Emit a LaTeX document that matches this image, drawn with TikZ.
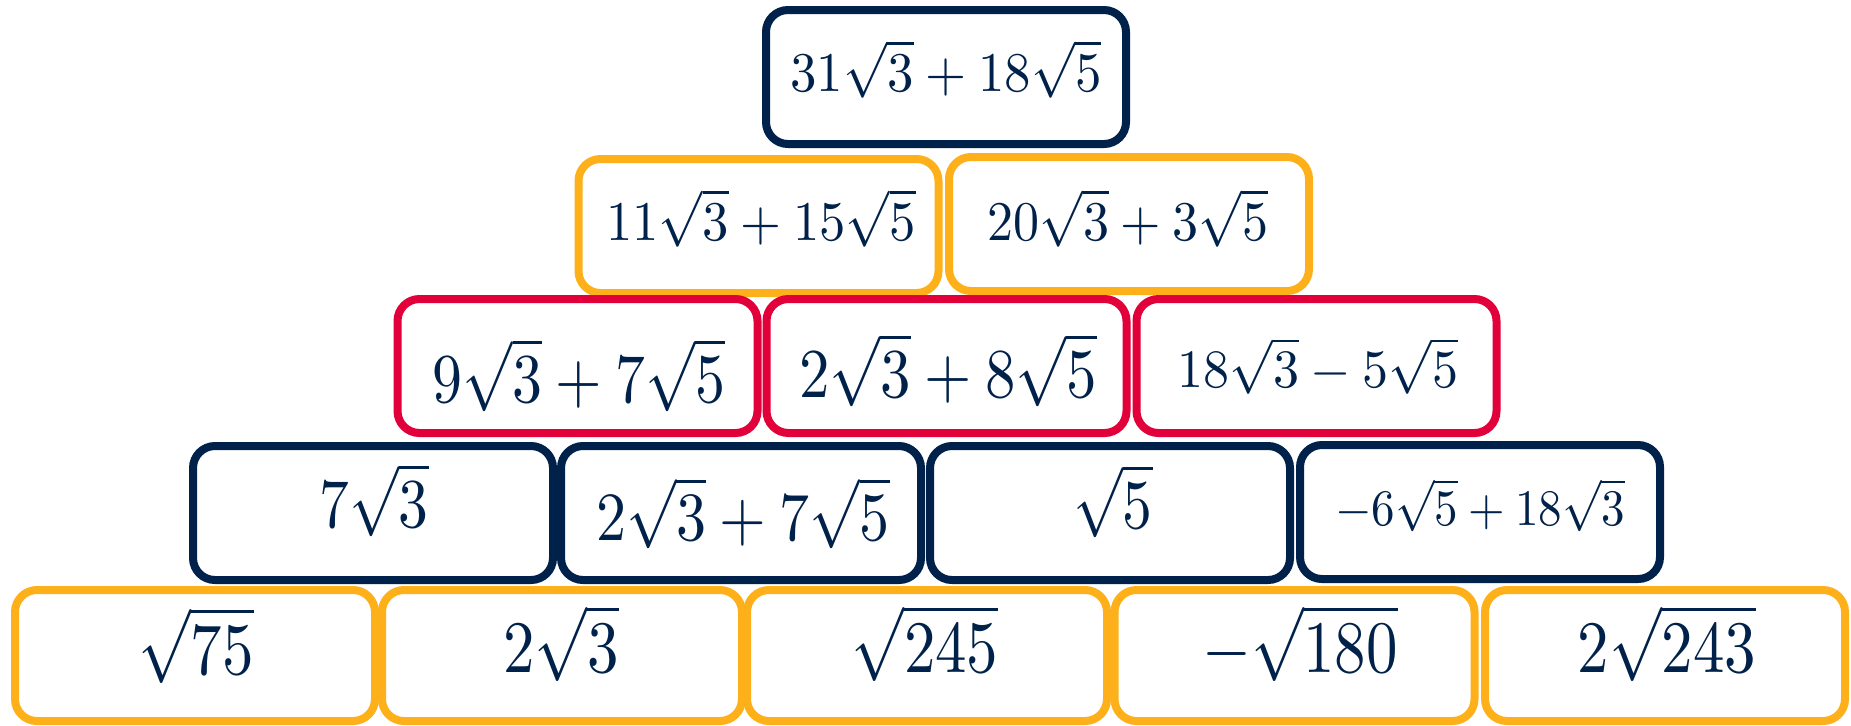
\documentclass[tikz,border=0pt]{standalone}
\usepackage{graphicx}
\definecolor{navy}{HTML}{00214A}
\definecolor{amber}{HTML}{FDB01A}
\definecolor{crimson}{HTML}{E1003A}
\newcommand{\ex}[3]{\scalebox{#1}[#2]{$#3$}}
\tikzset{
  cell/.style={draw, line width=4pt, rounded corners=11pt, minimum width=180pt,
    minimum height=67pt, inner sep=0pt},
  ncell/.style={cell, draw=navy},
  acell/.style={cell, draw=amber},
  rcell/.style={cell, draw=crimson},
  lowcell/.style={acell, minimum height=65.5pt},
  val/.style={anchor=base, text=navy, inner sep=0pt},
}
\begin{document}
\begin{tikzpicture}[x=0.5pt,y=-0.5pt]
\useasboundingbox (0,0) rectangle (1851,725);
% row 1
\node[ncell] (b1) at (946,77) {};
% row 2
\node[acell] (b2a) at (758.5,226) {};
\node[acell] (b2b) at (1129,224) {};
% row 3
\node[rcell] (b3a) at (577.5,366) {};
\node[rcell] (b3b) at (946.5,366) {};
\node[rcell] (b3c) at (1316.5,366) {};
% row 4
\node[ncell] (b4a) at (373,513) {};
\node[ncell] (b4b) at (741,513) {};
\node[ncell] (b4c) at (1110,513) {};
\node[ncell] (b4d) at (1480,512) {};
% row 5
\node[lowcell] (b5a) at (195,655.5) {};
\node[lowcell] (b5b) at (562,655.5) {};
\node[lowcell] (b5c) at (927,655.5) {};
\node[lowcell] (b5d) at (1294.5,655.5) {};
\node[lowcell] (b5e) at (1665,655.5) {};
% texts
\node[val] (t1) at (946,91) {\ex{2.64}{2.8}{31\sqrt{3}+18\sqrt{5}}};
\node[val] (t2a) at (761,240) {\ex{2.63}{2.8}{11\sqrt{3}+15\sqrt{5}}};
\node[val] (t2b) at (1128,240) {\ex{2.6}{2.8}{20\sqrt{3}+3\sqrt{5}}};
\node[val] (t3a) at (579,402) {\ex{2.99}{3.5}{9\sqrt{3}+7\sqrt{5}}};
\node[val] (t3b) at (948,397) {\ex{3.04}{3.5}{2\sqrt{3}+8\sqrt{5}}};
\node[val] (t3c) at (1318,387) {\ex{2.6}{2.7}{18\sqrt{3}-5\sqrt{5}}};
\node[val] (t4a) at (374,527) {\ex{2.975}{3.5}{7\sqrt{3}}};
\node[val] (t4b) at (743,540) {\ex{3.0}{3.45}{2\sqrt{3}+7\sqrt{5}}};
\node[val] (t4c) at (1113,528) {\ex{2.975}{3.5}{\sqrt{5}}};
\node[val] (t4d) at (1480,525) {\ex{2.35}{2.56}{-6\sqrt{5}+18\sqrt{3}}};
\node[val] (t5a) at (196,674) {\ex{3.145}{3.7}{\sqrt{75}}};
\node[val] (t5b) at (561,672) {\ex{3.145}{3.7}{2\sqrt{3}}};
\node[val] (t5c) at (925,672) {\ex{3.145}{3.7}{\sqrt{245}}};
\node[val] (t5d) at (1300,672) {\ex{3.145}{3.7}{-\sqrt{180}}};
\node[val] (t5e) at (1667,672) {\ex{3.145}{3.7}{2\sqrt{243}}};
\end{tikzpicture}
\end{document}
